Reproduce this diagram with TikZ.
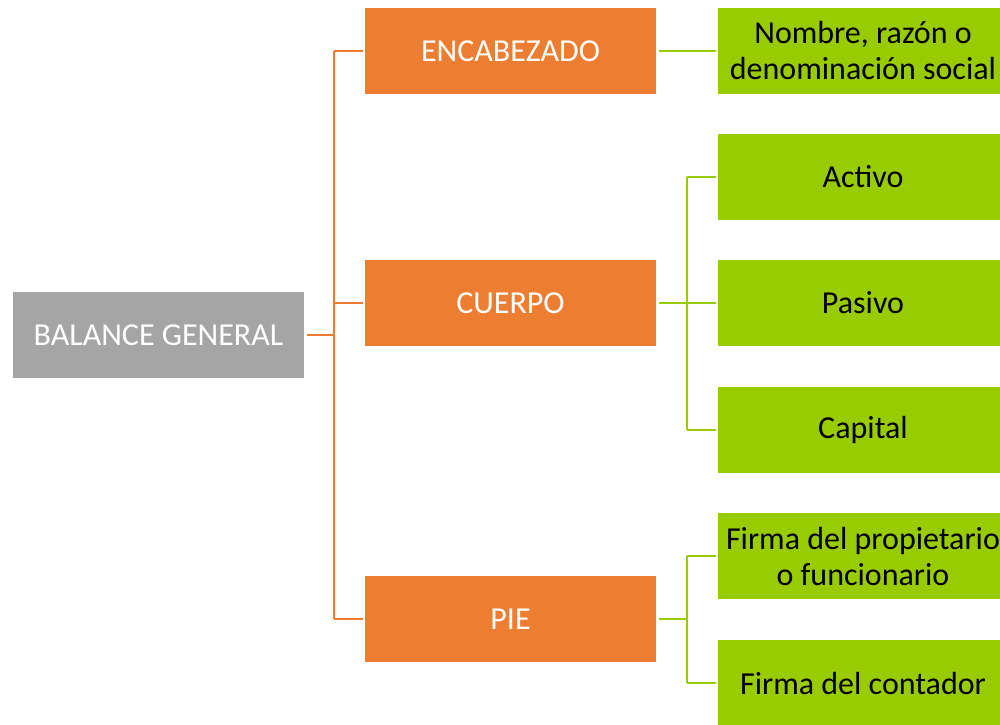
\documentclass[tikz,border=0pt]{standalone}
\usepackage{fontspec}
\setmainfont{Carlito}
\definecolor{bgray}{HTML}{A5A5A5}
\definecolor{borange}{HTML}{ED7D31}
\definecolor{bgreen}{HTML}{99CC00}
\tikzset{
  box/.style={rectangle, inner sep=0pt, outer sep=2.5pt, align=center,
    font=\fontsize{32}{36}\selectfont},
  graybox/.style={box, fill=bgray, text=white, minimum width=291pt, minimum height=86pt},
  orangebox/.style={box, fill=borange, text=white, minimum width=291pt, minimum height=86pt},
  greenbox/.style={box, fill=bgreen, text=black, minimum width=290pt, minimum height=86pt},
  oline/.style={draw=borange, line width=2.2pt},
  gline/.style={draw=bgreen, line width=2.6pt},
}
\begin{document}
\begin{tikzpicture}[x=1pt,y=-1pt]
\useasboundingbox (0,0) rectangle (1000,724);
\clip (0,0) rectangle (1000,724);
\node[graybox] (bg) at (158.5,335) {BALANCE GENERAL};
\node[orangebox] (enc) at (510.5,51) {ENCABEZADO};
\node[orangebox] (cue) at (510.5,303) {CUERPO};
\node[orangebox] (pie) at (510.5,619) {PIE};
\node[greenbox] (nom) at (863,51) {Nombre, razón o\\denominación social};
\node[greenbox] (act) at (863,177) {Activo};
\node[greenbox] (pas) at (863,303) {Pasivo};
\node[greenbox] (cap) at (863,430) {Capital};
\node[greenbox] (fpr) at (863,556) {Firma del propietario\\o funcionario};
\node[greenbox] (fco) at (863,683) {Firma del contador};
\coordinate (ot) at (334,0);
\coordinate (gt) at (687,0);
% orange connectors
\draw[oline] (bg.east) -- (ot |- bg.east);
\draw[oline] (ot |- enc.west) -- (ot |- pie.west);
\draw[oline] (ot |- enc.west) -- (enc.west);
\draw[oline] (ot |- cue.west) -- (cue.west);
\draw[oline] (ot |- pie.west) -- (pie.west);
% green connectors
\draw[gline] (enc.east) -- (nom.west);
\draw[gline] (cue.east) -- (pas.west);
\draw[gline] (gt |- act.west) -- (gt |- cap.west);
\draw[gline] (gt |- act.west) -- (act.west);
\draw[gline] (gt |- cap.west) -- (cap.west);
\draw[gline] (pie.east) -- (gt |- pie.east);
\draw[gline] (gt |- fpr.west) -- (gt |- fco.west);
\draw[gline] (gt |- fpr.west) -- (fpr.west);
\draw[gline] (gt |- fco.west) -- (fco.west);
\end{tikzpicture}
\end{document}
